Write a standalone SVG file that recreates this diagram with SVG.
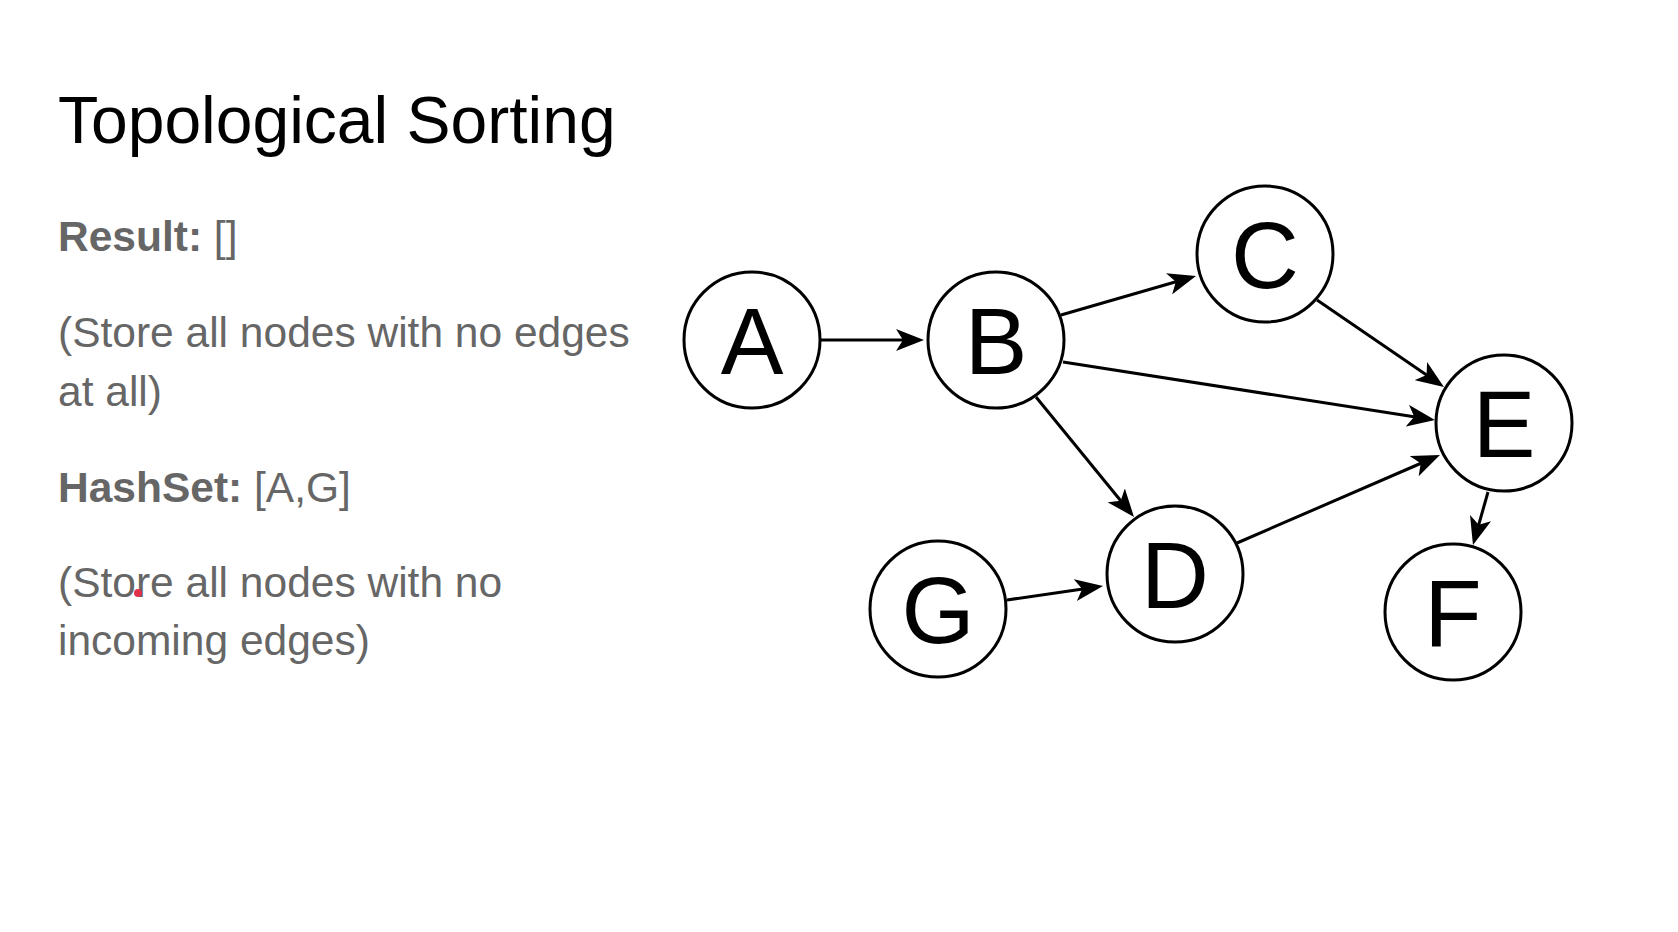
<svg xmlns="http://www.w3.org/2000/svg" width="1678" height="932" viewBox="0 0 1678 932">
<style>
.title{font-family:"Liberation Sans",Arial,sans-serif;font-size:66px;fill:#000}
.body{font-family:"Liberation Sans",Arial,sans-serif;font-size:42.5px;fill:#666666}
.b{font-weight:bold}
.node circle{fill:#fff;stroke:#000;stroke-width:3}
.node text{font-family:"Liberation Sans",Arial,sans-serif;font-size:94px;fill:#000;text-anchor:middle}
.edge{stroke:#000;stroke-width:3;fill:none;marker-end:url(#arr)}
</style>
<defs>
<marker id="arr" markerUnits="userSpaceOnUse" markerWidth="28" markerHeight="22" viewBox="0 0 28 22" refX="18" refY="11" orient="auto">
<path d="M0,0 L28,11 L0,22 L7,11 Z" fill="#000"/>
</marker>
</defs>
<rect width="1678" height="932" fill="#fff"/>
<g id="text">
<text class="title" x="58" y="143">Topological Sorting</text>
<text class="body" x="58" y="251"><tspan class="b">Result:</tspan> []</text>
<text class="body" x="58" y="347">(Store all nodes with no edges</text>
<text class="body" x="58" y="406">at all)</text>
<text class="body" x="58" y="502"><tspan class="b">HashSet:</tspan> [A,G]</text>
<text class="body" x="58" y="597">(Store all nodes with no</text>
<text class="body" x="58" y="655">incoming edges)</text>
<circle cx="138" cy="593" r="4" fill="#e0304a"/>
</g>
<g id="connectors">
<line class="edge" x1="821" y1="340" x2="914" y2="340"/>
<line class="edge" x1="1061" y1="315" x2="1186.4" y2="278.8"/>
<line class="edge" x1="1063" y1="362" x2="1425.1" y2="418.5"/>
<line class="edge" x1="1036" y1="397" x2="1127.7" y2="509.3"/>
<line class="edge" x1="1317" y1="300" x2="1435.7" y2="381.3"/>
<line class="edge" x1="1237" y1="543" x2="1430.8" y2="459"/>
<line class="edge" x1="1488" y1="492" x2="1475.7" y2="535.4"/>
<line class="edge" x1="1007" y1="600" x2="1093.1" y2="587.4"/>
</g>
<g id="node-A" class="node"><circle cx="752" cy="340" r="68"/><text x="752" y="374">A</text></g>
<g id="node-B" class="node"><circle cx="996" cy="340" r="68"/><text x="996" y="374">B</text></g>
<g id="node-C" class="node"><circle cx="1265" cy="254" r="68"/><text x="1265" y="288">C</text></g>
<g id="node-D" class="node"><circle cx="1175" cy="574" r="68"/><text x="1175" y="608">D</text></g>
<g id="node-E" class="node"><circle cx="1504" cy="423" r="68"/><text x="1504" y="457">E</text></g>
<g id="node-F" class="node"><circle cx="1453" cy="612" r="68"/><text x="1453" y="646">F</text></g>
<g id="node-G" class="node"><circle cx="938" cy="609" r="68"/><text x="938" y="643">G</text></g>
</svg>
